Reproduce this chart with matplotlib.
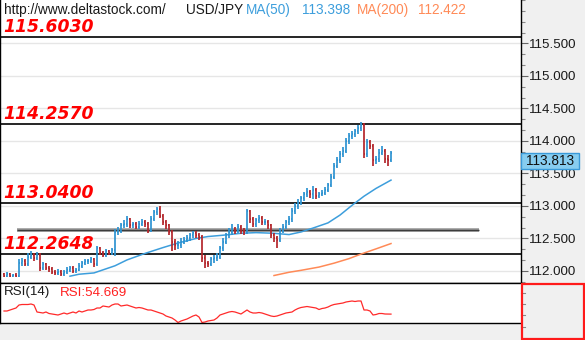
import matplotlib
matplotlib.use("Agg")
import matplotlib.pyplot as plt
import matplotlib.transforms as mtransforms
from matplotlib.collections import LineCollection
from matplotlib.patches import Rectangle
from matplotlib.lines import Line2D
from matplotlib.ticker import MultipleLocator, FixedLocator, FormatStrFormatter
import numpy as np

# ---------------- data ----------------
first_open = 111.95
close = [111.93, 111.95, 111.92, 111.94, 111.93, 112.12, 112.15, 112.10, 112.22, 112.25,
         112.20, 112.25, 112.05, 112.10, 112.05, 112.03, 111.98, 111.97, 111.99, 111.96,
         111.98, 112.02, 112.05, 112.00, 112.02, 112.08, 112.12, 112.15, 112.15, 112.18,
         112.10, 112.35, 112.28, 112.25, 112.30, 112.28, 112.32, 112.60, 112.62, 112.70,
         112.72, 112.80, 112.70, 112.72, 112.68, 112.72, 112.75, 112.72, 112.62, 112.80,
         112.90, 112.95, 112.85, 112.75, 112.70, 112.60, 112.45, 112.40, 112.40, 112.45,
         112.48, 112.50, 112.55, 112.58, 112.55, 112.52, 112.20, 112.12, 112.10, 112.18,
         112.20, 112.22, 112.35, 112.45, 112.55, 112.60, 112.65, 112.62, 112.68, 112.62,
         112.60, 112.92, 112.80, 112.72, 112.78, 112.82, 112.75, 112.75, 112.70, 112.55,
         112.50, 112.48, 112.62, 112.68, 112.75, 112.80, 112.92, 113.00, 113.05, 113.12,
         113.18, 113.22, 113.18, 113.25, 113.15, 113.18, 113.20, 113.25, 113.32, 113.45,
         113.62, 113.70, 113.80, 113.85, 114.00, 114.08, 114.10, 114.15, 114.20, 114.25,
         113.80, 113.98, 113.92, 113.70, 113.72, 113.82, 113.85, 113.72, 113.70, 113.813]
high = [111.97, 111.98, 111.97, 111.96, 111.97, 112.18, 112.20, 112.18, 112.27, 112.30,
        112.28, 112.29, 112.27, 112.14, 112.13, 112.08, 112.06, 112.01, 112.03, 112.02,
        112.01, 112.06, 112.08, 112.07, 112.05, 112.12, 112.16, 112.19, 112.19, 112.22,
        112.20, 112.38, 112.37, 112.31, 112.34, 112.33, 112.36, 112.64, 112.67, 112.74,
        112.78, 112.84, 112.82, 112.76, 112.75, 112.77, 112.80, 112.78, 112.75, 112.84,
        112.94, 112.99, 113.00, 112.88, 112.79, 112.73, 112.63, 112.49, 112.46, 112.50,
        112.53, 112.55, 112.59, 112.62, 112.61, 112.58, 112.55, 112.24, 112.16, 112.22,
        112.25, 112.27, 112.39, 112.50, 112.59, 112.66, 112.72, 112.68, 112.72, 112.71,
        112.66, 112.96, 112.94, 112.83, 112.82, 112.86, 112.85, 112.80, 112.78, 112.73,
        112.59, 112.54, 112.66, 112.72, 112.79, 112.85, 112.97, 113.05, 113.10, 113.16,
        113.22, 113.27, 113.25, 113.30, 113.27, 113.22, 113.24, 113.29, 113.36, 113.49,
        113.66, 113.75, 113.85, 113.90, 114.05, 114.12, 114.16, 114.19, 114.24, 114.29,
        114.27, 114.03, 114.02, 113.95, 113.77, 113.87, 113.92, 113.88, 113.78, 113.85]
low = [111.90, 111.91, 111.90, 111.90, 111.90, 111.90, 112.08, 112.07, 112.08, 112.18,
       112.16, 112.17, 112.00, 112.02, 112.01, 111.99, 111.95, 111.94, 111.94, 111.93,
       111.93, 111.95, 111.99, 111.97, 111.97, 112.00, 112.05, 112.09, 112.11, 112.12,
       112.06, 112.07, 112.24, 112.21, 112.22, 112.24, 112.24, 112.23, 112.56, 112.58,
       112.66, 112.68, 112.66, 112.66, 112.64, 112.65, 112.69, 112.68, 112.58, 112.60,
       112.77, 112.86, 112.81, 112.70, 112.65, 112.55, 112.30, 112.33, 112.34, 112.36,
       112.41, 112.44, 112.46, 112.50, 112.50, 112.48, 112.14, 112.05, 112.06, 112.07,
       112.13, 112.16, 112.19, 112.31, 112.41, 112.50, 112.56, 112.57, 112.58, 112.57,
       112.55, 112.57, 112.74, 112.67, 112.68, 112.74, 112.71, 112.70, 112.65, 112.50,
       112.45, 112.36, 112.44, 112.58, 112.64, 112.71, 112.76, 112.88, 112.96, 113.01,
       113.08, 113.14, 113.13, 113.10, 113.11, 113.12, 113.15, 113.17, 113.22, 113.29,
       113.42, 113.58, 113.66, 113.76, 113.81, 113.95, 114.03, 114.06, 114.11, 114.15,
       113.74, 113.76, 113.88, 113.62, 113.64, 113.68, 113.78, 113.66, 113.62, 113.68]

ma50_idx = [22, 25, 30, 37, 41, 47, 53, 58, 64, 68, 73, 79, 84, 90, 95, 99, 103, 108,
            112, 116, 120, 124, 129]
ma50 = [111.92, 111.95, 111.97, 112.08, 112.17, 112.27, 112.36, 112.43, 112.50, 112.53,
        112.55, 112.58, 112.59, 112.58, 112.56, 112.60, 112.66, 112.74, 112.86, 113.01,
        113.15, 113.27, 113.398]
ma200_idx = [90, 95, 99, 105, 110, 115, 119, 124, 129]
ma200 = [111.93, 111.98, 112.01, 112.06, 112.12, 112.19, 112.26, 112.34, 112.422]

rsi = [58.4, 58.4, 59.6, 60.8, 62.0, 65.6, 66.2, 66.2, 66.2, 66.8,
       65.6, 57.2, 56.6, 56.0, 57.2, 55.4, 54.8, 54.2, 53.6, 54.8,
       56.0, 54.8, 56.0, 57.2, 56.0, 58.4, 57.2, 58.4, 59.6, 59.6,
       60.2, 62.0, 62.0, 64.4, 63.8, 63.2, 65.6, 66.8, 66.8, 64.4,
       65.0, 65.6, 64.4, 63.2, 62.0, 62.6, 62.0, 60.8, 59.6, 59.6,
       58.4, 57.2, 56.0, 54.8, 52.4, 51.2, 50.0, 47.6, 44.6, 46.4,
       47.6, 48.8, 50.6, 52.4, 53.6, 51.2, 44.6, 45.2, 46.4, 47.0,
       47.6, 50.0, 53.6, 54.8, 56.0, 57.2, 57.8, 57.2, 56.0, 54.8,
       57.2, 59.6, 57.2, 56.0, 56.0, 56.6, 56.0, 54.8, 53.6, 52.4,
       51.8, 52.4, 53.6, 54.8, 56.0, 56.6, 57.2, 59.6, 61.4, 62.6,
       63.2, 63.8, 63.2, 62.6, 62.0, 60.2, 61.4, 62.0, 63.2, 65.0,
       66.2, 66.8, 67.4, 68.0, 69.2, 69.8, 70.4, 69.8, 70.4, 70.4,
       59.6, 59.6, 58.4, 53.6, 54.2, 55.4, 55.4, 54.8, 54.8, 54.669]

levels = [115.6030, 114.2570, 113.0400, 112.2648]
level_labels = ["115.6030", "114.2570", "113.0400", "112.2648"]
trend_level = 112.63
trend_start, trend_end = 4.3, 158.3

price_ticks = [112.0, 112.5, 113.0, 113.5, 114.0, 114.5, 115.0, 115.5]

site = "http://www.deltastock.com/"
symbol = "USD/JPY"
ma50_label, ma200_label = "MA(50)", "MA(200)"
rsi_label = "RSI(14)"

# ---------------- styling ----------------
W, H = 585, 340
UP, DOWN = "#2e93d1", "#b3262b"
MA50_C, MA200_C = "#3d9edc", "#ff8a57"
PANEL_GRAY = "#f0f0f0"
LABEL_FONT = ["Liberation Sans", "DejaVu Sans"]

fig = plt.figure(figsize=(W / 100, H / 100), dpi=100)
fig.patch.set_facecolor("white")

def px_rect(x0, y0, w, h, **kw):
    """Rectangle given in pixel coordinates measured from the top-left corner."""
    return Rectangle((x0 / W, 1 - (y0 + h) / H), w / W, h / H,
                     transform=fig.transFigure, **kw)

fig.add_artist(px_rect(521, 0, 64, 340, fc=PANEL_GRAY, ec="none", zorder=0))
fig.add_artist(px_rect(0, 323, 521, 17, fc=PANEL_GRAY, ec="none", zorder=0))

# ---------------- price panel ----------------
ax = fig.add_axes([0, 57 / H, 521 / W, 283 / H])
ax.set_facecolor("white")
ymin, ymax = 111.815, 116.169
ax.set_ylim(ymin, ymax)
xmin = -4 / 3
ax.set_xlim(xmin, xmin + 521 / 3)
ppu = 283 / (ymax - ymin)

n = len(close)
opens = [first_open] + close[:-1]
segs, cols = [], []
for i in range(n):
    c = UP if close[i] >= opens[i] else DOWN
    segs.append([(i, low[i]), (i, high[i])])
    segs.append([(i - 0.4, opens[i]), (i, opens[i])])
    segs.append([(i, close[i]), (i + 0.4, close[i])])
    cols += [c, c, c]
ax.add_collection(LineCollection(segs, colors=cols, linewidths=1.25, zorder=4,
                                 capstyle="butt"))

ax.plot(ma50_idx, ma50, color=MA50_C, lw=1.1, zorder=3)
ax.plot(ma200_idx, ma200, color=MA200_C, lw=1.1, zorder=3)

for lv in levels:
    ax.axhline(lv, color="black", lw=1.2, zorder=2)
ax.plot([trend_start, trend_end], [trend_level, trend_level], color="#9a9a9a",
        lw=2.6, zorder=2, solid_capstyle="butt")
ax.plot([trend_start, trend_end], [trend_level, trend_level], color="#3c3c3c",
        lw=1.0, zorder=2, solid_capstyle="butt")

blend = mtransforms.blended_transform_factory(ax.transAxes, ax.transData)
lab_tr = mtransforms.offset_copy(blend, fig=fig, x=3, y=5, units="dots")
for lv, txt in zip(levels, level_labels):
    ax.text(0, lv, txt, transform=lab_tr, color="#ff0000", fontsize=12.4,
            fontweight="bold", fontstyle="italic", family="DejaVu Sans",
            ha="left", va="baseline", zorder=6)

ax.yaxis.tick_right()
ax.yaxis.set_major_locator(FixedLocator(price_ticks))
ax.yaxis.set_minor_locator(MultipleLocator(0.5 / 3))
ax.yaxis.set_major_formatter(FormatStrFormatter("%.3f"))
ax.tick_params(axis="y", which="major", direction="out", length=5, width=0.8,
               color="#666666", labelsize=9.6, pad=0.5, labelcolor="#1a1a1a")
ax.tick_params(axis="y", which="minor", direction="out", length=3, width=0.8,
               color="#888888")
for lbl in ax.get_yticklabels():
    lbl.set_family(LABEL_FONT)
ax.set_xticks([])
ax.grid(axis="y", which="major", color="#e6e6e6", lw=1.0, zorder=1)
ax.set_axisbelow(True)
for side in ("left", "right", "bottom"):
    ax.spines[side].set_color("black")
    ax.spines[side].set_linewidth(1.0)
ax.spines["top"].set_visible(False)

# price tag on the axis
last = close[-1]
tag_h = 16 / ppu
ax.add_patch(Rectangle((1.0, last - tag_h), 58 / 521, tag_h, transform=blend,
                       fc="#87cdf0", ec="#3a9ad9", lw=1.0, clip_on=False, zorder=7))
ax.text(1.0 + 29 / 521, last - tag_h / 2, f"{last:.3f}", transform=blend,
        ha="center", va="center", fontsize=9.8, color="#111111", family=LABEL_FONT,
        zorder=8, clip_on=False)

# header line
def header(x, y, s, color):
    fig.text(x / W, 1 - y / H, s, color=color, fontsize=9.8, family=LABEL_FONT,
             ha="left", va="center")

header(4, 10, site, "#1a1a1a")
header(186, 10, symbol, "#1a1a1a")
header(246, 10, ma50_label, MA50_C)
header(302, 10, f"{ma50[-1]:.3f}", MA50_C)
header(357, 10, ma200_label, MA200_C)
header(418, 10, f"{ma200[-1]:.3f}", MA200_C)

# ---------------- RSI panel ----------------
rax = fig.add_axes([0, 17 / H, 521 / W, 40 / H])
rax.set_facecolor("white")
rax.set_xlim(ax.get_xlim())
rax.set_ylim(44, 92)
rax.plot(range(len(rsi)), rsi, color="#ff2a2a", lw=0.9)
rax.set_xticks([])
rax.set_yticks([])
for s in rax.spines.values():
    s.set_color("black")
    s.set_linewidth(1.0)
rax.spines["right"].set_visible(False)

fig.text(4 / W, 1 - 292.5 / H, rsi_label, color="#1a1a1a", fontsize=9.6,
         family=LABEL_FONT, ha="left", va="center")
fig.text(60 / W, 1 - 292.5 / H, f"RSI:{rsi[-1]:.3f}", color="#ff2020", fontsize=9.6,
         family=LABEL_FONT, ha="left", va="center")

for ty in (293, 304, 315, 327):
    fig.add_artist(Line2D([521 / W, 525 / W], [1 - ty / H, 1 - ty / H],
                          transform=fig.transFigure, color="#888888", lw=0.8))
fig.add_artist(px_rect(522, 284, 62, 55, fc="none", ec="#ff1a1a", lw=1.6, zorder=5))

fig.savefig("out.png", dpi=100, facecolor=fig.get_facecolor())
